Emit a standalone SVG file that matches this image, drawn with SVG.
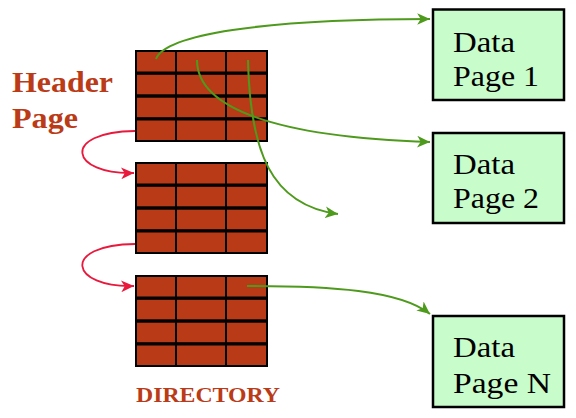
<svg xmlns="http://www.w3.org/2000/svg" xmlns:xlink="http://www.w3.org/1999/xlink" width="576" height="418" viewBox="0 0 576 418">
<style>
.cell{fill:#B93A16}
.label{font-family:"Liberation Serif","Times New Roman",serif;font-weight:bold;fill:#BB3B17}
.page rect{fill:#C9FCCB;stroke:#000;stroke-width:2.5}
.page text{font-family:"Liberation Serif","Times New Roman",serif;font-size:29px;fill:#000}
.red{fill:none;stroke:#E8193C;stroke-width:1.8}
.green{fill:none;stroke:#4E9A1C;stroke-width:2}
</style>
<defs>
<g id="brick">
<rect x="0" y="0" width="133" height="92" fill="#000"/>
<rect class="cell" x="2" y="2" width="38" height="19.5"/>
<rect class="cell" x="42" y="2" width="48" height="19.5"/>
<rect class="cell" x="92" y="2" width="39" height="19.5"/>
<rect class="cell" x="2" y="24.8" width="38" height="19.5"/>
<rect class="cell" x="42" y="24.8" width="48" height="19.5"/>
<rect class="cell" x="92" y="24.8" width="39" height="19.5"/>
<rect class="cell" x="2" y="47.7" width="38" height="19.5"/>
<rect class="cell" x="42" y="47.7" width="48" height="19.5"/>
<rect class="cell" x="92" y="47.7" width="39" height="19.5"/>
<rect class="cell" x="2" y="70.5" width="38" height="19.5"/>
<rect class="cell" x="42" y="70.5" width="48" height="19.5"/>
<rect class="cell" x="92" y="70.5" width="39" height="19.5"/>
</g>
<marker id="ahRed" markerUnits="userSpaceOnUse" markerWidth="14" markerHeight="12" refX="11" refY="5" orient="auto" viewBox="0 0 12 10">
<path d="M0,0 L11,5 L0,10 L3,5 Z" fill="#E8193C"/>
</marker>
<marker id="ahGreen" markerUnits="userSpaceOnUse" markerWidth="14" markerHeight="12" refX="11" refY="5" orient="auto" viewBox="0 0 12 10">
<path d="M0,0 L11,5 L0,10 L3,5 Z" fill="#4E9A1C"/>
</marker>
</defs>

<g id="header-label">
<text class="label" x="12" y="92" font-size="29" textLength="101" lengthAdjust="spacingAndGlyphs">Header</text>
<text class="label" x="12" y="128" font-size="29" textLength="66" lengthAdjust="spacingAndGlyphs">Page</text>
</g>

<g id="dir-block-1"><use xlink:href="#brick" x="135" y="50"/></g>
<g id="dir-block-2"><use xlink:href="#brick" x="135" y="162"/></g>
<g id="dir-block-3"><use xlink:href="#brick" x="135" y="275"/></g>

<g id="directory-label">
<text class="label" x="136" y="402" font-size="22" textLength="144" lengthAdjust="spacingAndGlyphs">DIRECTORY</text>
</g>

<g id="data-page-1" class="page">
<rect x="433" y="9.5" width="131" height="90.5"/>
<text x="453" y="52" textLength="62" lengthAdjust="spacingAndGlyphs">Data</text>
<text x="453" y="86" textLength="86" lengthAdjust="spacingAndGlyphs">Page 1</text>
</g>
<g id="data-page-2" class="page">
<rect x="433" y="133" width="131" height="90"/>
<text x="453" y="174" textLength="62" lengthAdjust="spacingAndGlyphs">Data</text>
<text x="453" y="208" textLength="86" lengthAdjust="spacingAndGlyphs">Page 2</text>
</g>
<g id="data-page-n" class="page">
<rect x="433" y="316" width="131" height="91"/>
<text x="453" y="357" textLength="62" lengthAdjust="spacingAndGlyphs">Data</text>
<text x="453" y="393" textLength="98" lengthAdjust="spacingAndGlyphs">Page N</text>
</g>

<g id="connectors">
<path class="red" d="M135,131 C60,132 70,175 134,173" marker-end="url(#ahRed)"/>
<path class="red" d="M135,244 C60,245 70,288 134,286" marker-end="url(#ahRed)"/>
<path class="green" d="M156,59 C165,35 260,19 430,19" marker-end="url(#ahGreen)"/>
<path class="green" d="M197,60 C197,108 275,137 430,142" marker-end="url(#ahGreen)"/>
<path class="green" d="M248,60 C250,150 270,205 338,214" marker-end="url(#ahGreen)"/>
<path class="green" d="M247,286 C330,286 400,290 430,314" marker-end="url(#ahGreen)"/>
</g>
</svg>
